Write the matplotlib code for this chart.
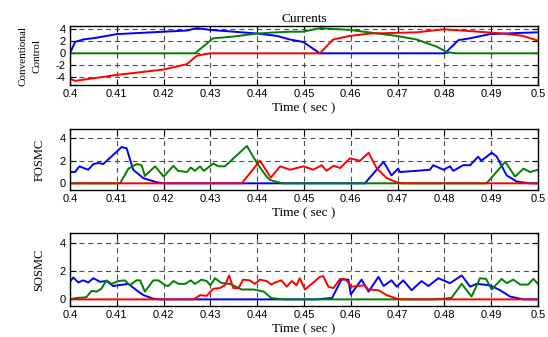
import numpy as np
import matplotlib.pyplot as plt

# phase currents for three controllers, read as (time, amp) breakpoints

# --- conventional control ---
conv_blue_t = [0.4, 0.4011, 0.4028, 0.4057, 0.41, 0.415, 0.42, 0.425, 0.4271, 0.43,
               0.435, 0.44, 0.4442, 0.447, 0.4498, 0.4534, 0.4801, 0.483, 0.4855,
               0.4897, 0.4962, 0.5]
conv_blue_i = [0.0, 1.9, 2.3, 2.6, 3.2, 3.4, 3.6, 3.8, 4.2, 3.9,
               3.6, 3.3, 2.9, 2.3, 1.9, 0.0, 0.0, 2.2, 2.5,
               3.2, 3.4, 3.5]
conv_green_t = [0.4, 0.4267, 0.4306, 0.435, 0.44, 0.4442, 0.447, 0.4498, 0.4534,
                0.4598, 0.4698, 0.4741, 0.4784, 0.4805, 0.4826, 0.5]
conv_green_i = [0.0, 0.0, 2.5, 2.8, 3.3, 3.5, 3.6, 3.6, 4.2,
                3.9, 2.9, 2.3, 1.1, 0.2, 0.0, 0.0]
conv_red_t = [0.4, 0.4011, 0.41, 0.42, 0.425, 0.4271, 0.4292, 0.43, 0.4534, 0.4562,
              0.4598, 0.4641, 0.4741, 0.4798, 0.4855, 0.4926, 0.4968, 0.5]
conv_red_i = [-4.2, -4.6, -3.6, -2.7, -1.8, -0.4, -0.1, 0.0, 0.0, 2.3,
              2.9, 3.3, 3.5, 4.0, 3.7, 3.3, 2.9, 2.1]

# --- FOSMC ---
fo_blue_t = [0.4, 0.4011, 0.402, 0.4039, 0.405, 0.4061, 0.4071, 0.41, 0.411, 0.4121,
             0.4135, 0.4157, 0.4185, 0.42, 0.463, 0.467, 0.4687, 0.4701, 0.4705,
             0.474, 0.4769, 0.4776, 0.4798, 0.4812, 0.4819, 0.484, 0.4855, 0.4872,
             0.4879, 0.4901, 0.4912, 0.4933, 0.4955, 0.4983, 0.5]
fo_blue_i = [1.0, 1.0, 1.5, 1.2, 1.7, 1.8, 1.7, 2.8, 3.2, 3.1,
             1.2, 0.45, 0.1, 0.0, 0.0, 1.9, 0.7, 1.3, 1.0,
             1.1, 1.2, 1.6, 1.2, 1.5, 1.1, 1.6, 1.6, 2.35,
             2.0, 2.7, 2.35, 0.7, 0.15, 0.0, 0.0]
fo_green_t = [0.4, 0.4107, 0.4125, 0.4143, 0.4153, 0.416, 0.4182, 0.42, 0.4221, 0.4231,
              0.425, 0.4258, 0.4267, 0.4278, 0.4286, 0.4306, 0.4317, 0.4331, 0.4378,
              0.44, 0.442, 0.4427, 0.4449, 0.4455, 0.489, 0.493, 0.4951, 0.4969,
              0.4983, 0.5]
fo_green_i = [0.0, 0.0, 1.3, 1.7, 1.6, 0.65, 1.5, 0.6, 1.55, 1.1,
              1.0, 1.4, 1.1, 1.5, 1.1, 1.75, 1.5, 1.5, 3.3,
              1.75, 0.6, 0.3, 0.05, 0.0, 0.0, 1.9, 0.6, 1.3,
              1.0, 1.2]
fo_red_t = [0.4, 0.4367, 0.4406, 0.4429, 0.4449, 0.447, 0.4499, 0.452, 0.4538, 0.4548,
            0.4563, 0.4577, 0.4598, 0.462, 0.4638, 0.4655, 0.4677, 0.4698, 0.471, 0.5]
fo_red_i = [0.0, 0.0, 2.0, 0.5, 1.5, 1.2, 1.5, 1.2, 1.6, 1.1,
            1.55, 1.35, 2.2, 2.0, 2.7, 1.35, 0.45, 0.1, 0.0, 0.0]

# --- SOSMC ---
so_blue_t = [0.4, 0.4007, 0.4018, 0.4028, 0.4039, 0.405, 0.4064, 0.4078, 0.4092, 0.4125,
             0.4142, 0.4157, 0.4178, 0.419, 0.4527, 0.456, 0.4563, 0.458, 0.4595,
             0.46, 0.4613, 0.4623, 0.4638, 0.4659, 0.467, 0.4687, 0.4698, 0.4712,
             0.473, 0.4751, 0.4766, 0.4787, 0.4812, 0.4837, 0.4855, 0.4869, 0.4897,
             0.4919, 0.494, 0.4969, 0.5]
so_blue_i = [1.25, 1.55, 1.2, 1.35, 1.2, 1.5, 1.25, 1.3, 0.95, 1.1,
             0.65, 0.3, 0.05, 0.0, 0.0, 0.1, 0.3, 1.4, 1.4,
             0.35, 0.95, 1.4, 0.55, 1.6, 0.95, 1.35, 0.9, 1.35,
             0.65, 1.3, 0.95, 1.5, 1.15, 1.7, 0.9, 1.1, 1.0,
             0.65, 0.2, 0.0, 0.0]
so_green_t = [0.4, 0.4014, 0.4035, 0.4046, 0.4057, 0.4067, 0.4078, 0.4089, 0.4103, 0.4117,
              0.4128, 0.4142, 0.415, 0.416, 0.4178, 0.4189, 0.4203, 0.421, 0.4221,
              0.4232, 0.4246, 0.4258, 0.4267, 0.4281, 0.4292, 0.43, 0.431, 0.4324,
              0.4342, 0.4367, 0.4392, 0.4414, 0.443, 0.4456, 0.4776, 0.4815, 0.4837,
              0.4858, 0.4876, 0.4889, 0.4901, 0.4922, 0.4933, 0.4947, 0.4962, 0.4979,
              0.499, 0.5]
so_green_i = [0.0, 0.1, 0.15, 0.6, 0.55, 0.75, 1.35, 1.1, 1.3, 1.35,
              1.0, 1.35, 1.35, 0.55, 1.35, 1.35, 1.0, 0.95, 1.3,
              1.1, 1.1, 1.35, 1.1, 1.4, 1.3, 1.0, 1.5, 1.15,
              1.1, 0.7, 0.7, 0.55, 0.1, 0.0, 0.0, 0.1, 1.1,
              0.2, 1.5, 1.45, 0.7, 1.45, 1.15, 1.4, 1.05, 1.05,
              1.45, 1.1]
so_red_t = [0.4, 0.4264, 0.4278, 0.4292, 0.4306, 0.432, 0.4331, 0.434, 0.4349, 0.436,
            0.437, 0.4384, 0.4395, 0.4406, 0.442, 0.443, 0.4438, 0.4452, 0.4463,
            0.4474, 0.4484, 0.4491, 0.4502, 0.4513, 0.4534, 0.4541, 0.4552, 0.4563,
            0.4577, 0.4588, 0.4602, 0.463, 0.4637, 0.4659, 0.4677, 0.4698, 0.471, 0.5]
so_red_i = [0.0, 0.0, 0.3, 0.25, 0.75, 0.8, 1.0, 1.7, 0.8, 0.8,
            1.4, 1.35, 1.1, 1.4, 1.3, 1.05, 1.2, 1.35, 0.9,
            1.3, 1.0, 1.5, 0.7, 1.0, 1.6, 1.65, 0.9, 0.8,
            1.45, 1.45, 0.9, 1.0, 0.7, 0.65, 0.3, 0.05, 0.0, 0.0]

panels = [
    ("Conventional\nControl", (-5.33, 4.55), [-4, -2, 0, 2, 4],
     [(conv_blue_t, conv_blue_i), (conv_green_t, conv_green_i), (conv_red_t, conv_red_i)]),
    ("FOSMC", (-0.59, 4.77), [0, 2, 4],
     [(fo_blue_t, fo_blue_i), (fo_green_t, fo_green_i), (fo_red_t, fo_red_i)]),
    ("SOSMC", (-0.47, 4.73), [0, 2, 4],
     [(so_blue_t, so_blue_i), (so_green_t, so_green_i), (so_red_t, so_red_i)]),
]
colors = ["#0000ff", "#008000", "#ff0000"]
boxes = [(0.1277, 0.7469, 0.8541, 0.1759),
         (0.1277, 0.4362, 0.8541, 0.1801),
         (0.1277, 0.0920, 0.8541, 0.2175)]
ylabel_x = [0.076, 0.083, 0.083]
ylabel_size = [8.0, 9.0, 9.0]

serif = "Liberation Serif"
sans = "Liberation Sans"

fig = plt.figure(figsize=(5.48, 3.37), dpi=100)
xticks = np.round(np.arange(0.4, 0.5001, 0.01), 2)

for (ylab, ylim, yticks, series), box, lx, ls in zip(panels, boxes, ylabel_x, ylabel_size):
    ax = fig.add_axes(box)
    for (t, i), c in zip(series, colors):
        ax.plot(t, i, color=c, lw=1.4)
    ax.set_xlim(0.4, 0.5)
    ax.set_ylim(*ylim)
    ax.set_xticks(xticks)
    ax.set_xticklabels([f"{v:g}" for v in xticks], fontfamily=sans, fontsize=8)
    ax.set_yticks(yticks)
    ax.set_yticklabels([str(v) for v in yticks], fontfamily=sans, fontsize=8)
    ax.tick_params(direction="in", length=4, width=0.8, top=True, right=True, pad=3)
    ax.grid(True, color="0.3", ls=(0, (4.5, 3.5)), lw=0.8)
    for s in ax.spines.values():
        s.set_linewidth(1.0)
    ax.set_xlabel("Time ( sec )", fontfamily=serif, fontsize=9.5, labelpad=2)
    ax.set_ylabel(ylab, fontfamily=serif, fontsize=ls, linespacing=1.7)
    ax.yaxis.set_label_coords(lx, box[1] + box[3] / 2, transform=fig.transFigure)
    if box is boxes[0]:
        ax.set_title("Currents", fontfamily=serif, fontsize=9.5, pad=3)

fig.savefig("out.png", dpi=100)
